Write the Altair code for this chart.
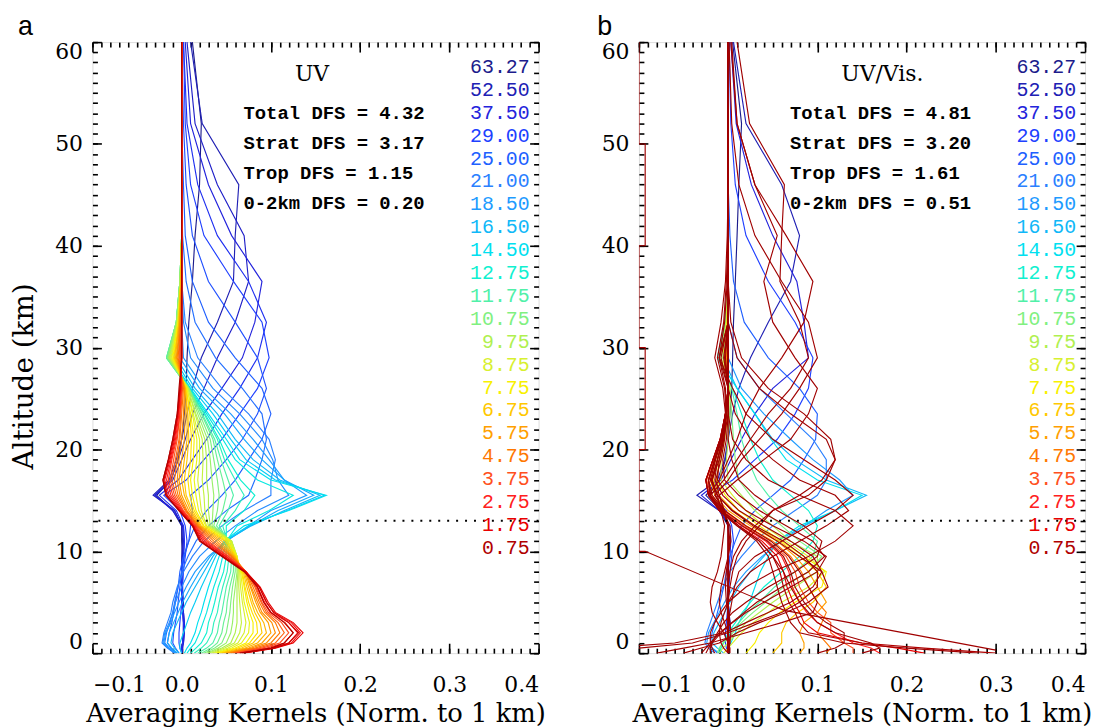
import altair as alt
import pandas as pd

# ---------------- data ----------------
ALT_KM = [0, 0.5, 1, 2, 3, 4, 5, 6.5, 8, 9.5, 11, 12.5, 14, 15.5, 17, 19, 21,
          23.5, 26, 29, 32.5, 36.5, 41, 46, 52, 60]

LAYER_LABELS = ["63.27", "52.50", "37.50", "29.00", "25.00", "21.00", "18.50",
                "16.50", "14.50", "12.75", "11.75", "10.75", "9.75", "8.75",
                "7.75", "6.75", "5.75", "4.75", "3.75", "2.75", "1.75", "0.75"]

LAYER_COLORS = ["#1c1c8c", "#2020b4", "#2424dc", "#2040ff", "#2060ff", "#2a80ff",
                "#1e9bff", "#10b8f8", "#00e0f0", "#10f0d0", "#50f0a8", "#80f080",
                "#b0f050", "#d8f030", "#f8f000", "#ffc800", "#ffa000", "#ff7800",
                "#ff5020", "#ff2020", "#e80000", "#b00000"]

UV_AK = [
    [0.0, 0.0, 0.001, 0.002, 0.002, 0.002, 0.001, 0.0, 0.0, 0.001, 0.0, 0.0, -0.01, -0.028, -0.012, -0.004, 0.0, 0.003, 0.005, 0.006, 0.008, 0.012, 0.015, 0.02, 0.022, 0.012],
    [0.0, 0.0, 0.002, 0.003, 0.003, 0.002, 0.002, 0.001, 0.0, 0.0, 0.001, 0.0, -0.008, -0.032, -0.014, -0.006, 0.0, 0.006, 0.012, 0.022, 0.04, 0.058, 0.06, 0.064, 0.023, 0.01],
    [0.0, 0.001, 0.002, 0.003, 0.003, 0.002, 0.001, 0.0, 0.0, 0.002, 0.003, 0.002, -0.01, -0.03, -0.01, 0.0, 0.01, 0.025, 0.045, 0.068, 0.082, 0.09, 0.056, 0.03, 0.01, 0.004],
    [0.0, -0.002, -0.003, -0.003, -0.002, -0.001, 0.0, 0.001, 0.002, 0.004, 0.006, 0.004, -0.002, -0.02, 0.005, 0.025, 0.045, 0.065, 0.085, 0.098, 0.09, 0.058, 0.025, 0.01, 0.004, 0.002],
    [-0.005, -0.012, -0.016, -0.014, -0.011, -0.009, -0.007, -0.004, -0.002, 0.002, 0.008, 0.015, 0.028, 0.045, 0.06, 0.075, 0.09, 0.1, 0.09, 0.06, 0.03, 0.012, 0.004, 0.002, 0.0, 0.0],
    [-0.008, -0.016, -0.022, -0.02, -0.016, -0.012, -0.01, -0.005, 0.002, 0.012, 0.025, 0.045, 0.07, 0.1, 0.1, 0.105, 0.098, 0.075, 0.045, 0.018, 0.004, 0.0, 0.0, 0.0, 0.0, 0.0],
    [-0.006, -0.014, -0.02, -0.018, -0.012, -0.008, -0.003, 0.005, 0.015, 0.03, 0.05, 0.075, 0.1, 0.14, 0.115, 0.098, 0.08, 0.055, 0.025, 0.002, 0.0, 0.0, 0.0, 0.0, 0.0, 0.0],
    [-0.003, -0.008, -0.012, -0.01, -0.005, 0.0, 0.005, 0.015, 0.025, 0.035, 0.048, 0.078, 0.115, 0.155, 0.11, 0.08, 0.06, 0.04, 0.015, -0.006, 0.0, 0.0, 0.0, 0.0, 0.0, 0.0],
    [0.003, 0.006, 0.01, 0.015, 0.018, 0.022, 0.025, 0.03, 0.036, 0.042, 0.048, 0.07, 0.12, 0.162, 0.1, 0.065, 0.05, 0.03, 0.01, -0.012, -0.004, 0.0, 0.0, 0.0, 0.0, 0.0],
    [0.01, 0.016, 0.022, 0.028, 0.03, 0.034, 0.037, 0.041, 0.047, 0.05, 0.05, 0.05, 0.07, 0.082, 0.066, 0.052, 0.042, 0.026, 0.008, -0.016, -0.006, -0.002, 0.0, 0.0, 0.0, 0.0],
    [0.018, 0.028, 0.035, 0.04, 0.042, 0.045, 0.047, 0.05, 0.055, 0.056, 0.052, 0.042, 0.052, 0.058, 0.052, 0.044, 0.037, 0.023, 0.008, -0.017, -0.006, -0.002, 0.0, 0.0, 0.0, 0.0],
    [0.025, 0.037, 0.045, 0.05, 0.052, 0.054, 0.055, 0.057, 0.06, 0.06, 0.055, 0.036, 0.04, 0.042, 0.04, 0.036, 0.032, 0.02, 0.008, -0.016, -0.006, -0.002, 0.0, 0.0, 0.0, 0.0],
    [0.03, 0.045, 0.055, 0.06, 0.062, 0.062, 0.062, 0.062, 0.063, 0.062, 0.056, 0.032, 0.03, 0.03, 0.028, 0.028, 0.026, 0.016, 0.007, -0.014, -0.005, -0.002, 0.0, 0.0, 0.0, 0.0],
    [0.035, 0.052, 0.063, 0.07, 0.072, 0.07, 0.068, 0.066, 0.065, 0.062, 0.055, 0.028, 0.022, 0.02, 0.018, 0.02, 0.02, 0.013, 0.006, -0.012, -0.004, -0.001, 0.0, 0.0, 0.0, 0.0],
    [0.04, 0.06, 0.072, 0.08, 0.08, 0.076, 0.073, 0.07, 0.067, 0.061, 0.052, 0.025, 0.016, 0.012, 0.01, 0.013, 0.014, 0.01, 0.005, -0.01, -0.004, -0.001, 0.0, 0.0, 0.0, 0.0],
    [0.045, 0.067, 0.08, 0.09, 0.088, 0.082, 0.078, 0.073, 0.069, 0.06, 0.048, 0.022, 0.012, 0.005, 0.003, 0.006, 0.008, 0.007, 0.004, -0.008, -0.003, -0.001, 0.0, 0.0, 0.0, 0.0],
    [0.05, 0.075, 0.09, 0.1, 0.097, 0.088, 0.083, 0.077, 0.071, 0.058, 0.042, 0.02, 0.008, 0.0, -0.003, 0.0, 0.003, 0.004, 0.003, -0.006, -0.002, 0.0, 0.0, 0.0, 0.0, 0.0],
    [0.055, 0.082, 0.1, 0.11, 0.105, 0.093, 0.087, 0.08, 0.072, 0.056, 0.036, 0.018, 0.005, -0.004, -0.008, -0.005, -0.002, 0.0, 0.002, -0.004, -0.001, 0.0, 0.0, 0.0, 0.0, 0.0],
    [0.06, 0.09, 0.11, 0.12, 0.112, 0.097, 0.09, 0.083, 0.072, 0.053, 0.03, 0.016, 0.002, -0.008, -0.013, -0.009, -0.005, -0.002, 0.0, -0.002, 0.0, 0.0, 0.0, 0.0, 0.0, 0.0],
    [0.065, 0.1, 0.12, 0.13, 0.12, 0.1, 0.093, 0.085, 0.072, 0.05, 0.026, 0.014, 0.0, -0.012, -0.017, -0.012, -0.007, -0.003, -0.001, 0.0, 0.0, 0.0, 0.0, 0.0, 0.0, 0.0],
    [0.07, 0.105, 0.125, 0.136, 0.125, 0.105, 0.097, 0.088, 0.072, 0.047, 0.022, 0.013, -0.002, -0.016, -0.02, -0.014, -0.009, -0.004, -0.002, 0.0, 0.0, 0.0, 0.0, 0.0, 0.0, 0.0],
    [0.065, 0.1, 0.115, 0.125, 0.115, 0.1, 0.092, 0.085, 0.07, 0.045, 0.02, 0.012, -0.003, -0.018, -0.021, -0.015, -0.01, -0.005, -0.003, 0.0, 0.0, 0.0, 0.0, 0.0, 0.0, 0.0],
]

# unlabelled in-between layers of panel a
UV_MID_KM = [45, 33, 27, 23, 19.75, 17.5, 15.5, 13.5, 12.25, 11.25, 10.25, 9.25,
             8.25, 7.25, 6.25, 5.25, 4.25, 3.25, 2.25, 1.25]
UV_MID_COLORS = ["#2020c8", "#2030f0", "#2050ff", "#2470ff", "#248cff", "#18a8fc",
                 "#08ccf4", "#08e8e0", "#30f0bc", "#68f094", "#98f068", "#c4f240",
                 "#e8f418", "#ffe000", "#ffb400", "#ff8c00", "#ff6410", "#ff3818",
                 "#f41010", "#cc0000"]
UV_MID_AK = [
    [0.0, 0.0, 0.001, 0.002, 0.002, 0.001, 0.0, 0.0, 0.0, 0.001, 0.002, 0.001, -0.008, -0.03, -0.012, -0.004, 0.004, 0.012, 0.025, 0.04, 0.06, 0.075, 0.07, 0.04, 0.015, 0.006],
    [0.0, 0.0, 0.001, 0.002, 0.002, 0.001, 0.0, 0.0, 0.0, 0.002, 0.003, 0.002, -0.006, -0.025, -0.004, 0.012, 0.028, 0.045, 0.065, 0.085, 0.095, 0.075, 0.04, 0.018, 0.006, 0.002],
    [-0.003, -0.007, -0.01, -0.009, -0.007, -0.005, -0.004, -0.002, 0.0, 0.003, 0.008, 0.01, 0.012, 0.01, 0.03, 0.05, 0.068, 0.085, 0.095, 0.085, 0.06, 0.03, 0.012, 0.005, 0.002, 0.0],
    [-0.007, -0.014, -0.019, -0.017, -0.013, -0.01, -0.008, -0.004, 0.0, 0.007, 0.016, 0.03, 0.05, 0.075, 0.082, 0.09, 0.095, 0.09, 0.068, 0.038, 0.015, 0.005, 0.001, 0.0, 0.0, 0.0],
    [-0.007, -0.015, -0.021, -0.019, -0.014, -0.01, -0.007, 0.0, 0.008, 0.02, 0.038, 0.06, 0.085, 0.12, 0.108, 0.102, 0.09, 0.065, 0.035, 0.01, 0.002, 0.0, 0.0, 0.0, 0.0, 0.0],
    [-0.005, -0.011, -0.016, -0.014, -0.009, -0.004, 0.001, 0.01, 0.02, 0.032, 0.05, 0.077, 0.108, 0.148, 0.115, 0.09, 0.07, 0.048, 0.02, -0.002, 0.0, 0.0, 0.0, 0.0, 0.0, 0.0],
    [0.0, -0.002, -0.002, 0.002, 0.006, 0.01, 0.015, 0.022, 0.03, 0.038, 0.048, 0.075, 0.118, 0.16, 0.105, 0.072, 0.055, 0.035, 0.012, -0.009, -0.002, 0.0, 0.0, 0.0, 0.0, 0.0],
    [0.006, 0.01, 0.015, 0.02, 0.024, 0.028, 0.031, 0.036, 0.042, 0.046, 0.05, 0.062, 0.098, 0.125, 0.085, 0.06, 0.046, 0.028, 0.009, -0.014, -0.005, -0.001, 0.0, 0.0, 0.0, 0.0],
    [0.014, 0.022, 0.028, 0.034, 0.036, 0.04, 0.042, 0.046, 0.051, 0.053, 0.051, 0.046, 0.06, 0.07, 0.06, 0.048, 0.04, 0.025, 0.008, -0.017, -0.006, -0.002, 0.0, 0.0, 0.0, 0.0],
    [0.022, 0.033, 0.04, 0.045, 0.047, 0.05, 0.051, 0.054, 0.058, 0.058, 0.054, 0.039, 0.046, 0.05, 0.046, 0.04, 0.035, 0.022, 0.008, -0.017, -0.006, -0.002, 0.0, 0.0, 0.0, 0.0],
    [0.028, 0.041, 0.05, 0.055, 0.057, 0.058, 0.058, 0.06, 0.062, 0.061, 0.056, 0.034, 0.035, 0.036, 0.034, 0.032, 0.029, 0.018, 0.008, -0.015, -0.006, -0.002, 0.0, 0.0, 0.0, 0.0],
    [0.033, 0.048, 0.059, 0.065, 0.067, 0.066, 0.065, 0.064, 0.064, 0.062, 0.056, 0.03, 0.026, 0.025, 0.023, 0.024, 0.023, 0.015, 0.007, -0.013, -0.005, -0.001, 0.0, 0.0, 0.0, 0.0],
    [0.038, 0.056, 0.067, 0.075, 0.076, 0.073, 0.07, 0.068, 0.066, 0.062, 0.054, 0.027, 0.019, 0.016, 0.014, 0.017, 0.017, 0.012, 0.006, -0.011, -0.004, -0.001, 0.0, 0.0, 0.0, 0.0],
    [0.043, 0.063, 0.076, 0.085, 0.084, 0.079, 0.075, 0.071, 0.068, 0.061, 0.05, 0.024, 0.014, 0.009, 0.007, 0.01, 0.011, 0.009, 0.005, -0.009, -0.003, -0.001, 0.0, 0.0, 0.0, 0.0],
    [0.048, 0.071, 0.085, 0.095, 0.092, 0.085, 0.08, 0.075, 0.07, 0.059, 0.045, 0.021, 0.01, 0.003, 0.0, 0.003, 0.006, 0.006, 0.004, -0.007, -0.003, -0.001, 0.0, 0.0, 0.0, 0.0],
    [0.052, 0.078, 0.095, 0.105, 0.101, 0.09, 0.085, 0.078, 0.072, 0.057, 0.039, 0.019, 0.006, -0.002, -0.005, -0.003, 0.0, 0.002, 0.003, -0.005, -0.002, 0.0, 0.0, 0.0, 0.0, 0.0],
    [0.058, 0.086, 0.105, 0.115, 0.108, 0.095, 0.089, 0.082, 0.072, 0.055, 0.033, 0.017, 0.004, -0.006, -0.011, -0.007, -0.003, -0.001, 0.001, -0.003, -0.001, 0.0, 0.0, 0.0, 0.0, 0.0],
    [0.062, 0.095, 0.115, 0.125, 0.116, 0.099, 0.092, 0.084, 0.072, 0.052, 0.028, 0.015, 0.001, -0.01, -0.015, -0.011, -0.006, -0.002, 0.0, -0.001, 0.0, 0.0, 0.0, 0.0, 0.0, 0.0],
    [0.068, 0.103, 0.123, 0.133, 0.123, 0.103, 0.095, 0.087, 0.072, 0.049, 0.024, 0.013, -0.001, -0.014, -0.019, -0.013, -0.008, -0.004, -0.001, 0.0, 0.0, 0.0, 0.0, 0.0, 0.0, 0.0],
    [0.068, 0.103, 0.12, 0.131, 0.12, 0.103, 0.095, 0.087, 0.071, 0.046, 0.021, 0.012, -0.003, -0.017, -0.021, -0.015, -0.01, -0.005, -0.002, 0.0, 0.0, 0.0, 0.0, 0.0, 0.0, 0.0],
]

UVVIS_AK = [
    [0.0, 0.0, 0.0, 0.001, 0.001, 0.001, 0.0, 0.0, 0.0, 0.0, 0.0, 0.0, -0.008, -0.025, -0.01, -0.003, 0.0, 0.002, 0.004, 0.005, 0.006, 0.008, 0.01, 0.012, 0.015, 0.005],
    [0.0, 0.0, 0.001, 0.002, 0.002, 0.001, 0.0, 0.0, 0.0, 0.0, 0.001, 0.0, -0.01, -0.035, -0.012, -0.004, 0.0, 0.005, 0.012, 0.025, 0.045, 0.07, 0.08, 0.06, 0.02, 0.006],
    [0.0, 0.0, 0.001, 0.002, 0.002, 0.001, 0.0, 0.0, 0.0, 0.002, 0.003, 0.002, -0.01, -0.03, -0.008, 0.003, 0.015, 0.03, 0.05, 0.09, 0.085, 0.077, 0.05, 0.026, 0.009, 0.003],
    [0.0, -0.002, -0.003, -0.003, -0.002, -0.001, 0.0, 0.001, 0.002, 0.004, 0.006, 0.004, -0.002, -0.022, 0.005, 0.03, 0.055, 0.075, 0.09, 0.095, 0.075, 0.045, 0.02, 0.008, 0.003, 0.001],
    [-0.012, -0.018, -0.02, -0.018, -0.015, -0.012, -0.009, -0.005, -0.002, 0.002, 0.008, 0.015, 0.03, 0.05, 0.07, 0.085, 0.098, 0.1, 0.08, 0.045, 0.018, 0.006, 0.002, 0.0, 0.0, 0.0],
    [-0.015, -0.022, -0.026, -0.024, -0.02, -0.016, -0.012, -0.006, 0.002, 0.015, 0.03, 0.05, 0.075, 0.1, 0.11, 0.11, 0.095, 0.065, 0.035, 0.01, 0.0, 0.0, 0.0, 0.0, 0.0, 0.0],
    [-0.01, -0.018, -0.024, -0.022, -0.016, -0.01, -0.004, 0.006, 0.02, 0.038, 0.06, 0.085, 0.11, 0.14, 0.125, 0.095, 0.07, 0.04, 0.015, 0.0, 0.0, 0.0, 0.0, 0.0, 0.0, 0.0],
    [-0.005, -0.012, -0.018, -0.016, -0.01, -0.004, 0.002, 0.012, 0.025, 0.04, 0.055, 0.085, 0.12, 0.155, 0.11, 0.075, 0.05, 0.03, 0.01, -0.006, 0.0, 0.0, 0.0, 0.0, 0.0, 0.0],
    [0.0, 0.0, 0.003, 0.008, 0.012, 0.018, 0.024, 0.03, 0.036, 0.045, 0.055, 0.08, 0.12, 0.15, 0.1, 0.065, 0.048, 0.03, 0.01, -0.012, -0.004, 0.0, 0.0, 0.0, 0.0, 0.0],
    [-0.01, -0.008, -0.005, 0.0, 0.008, 0.016, 0.025, 0.04, 0.06, 0.08, 0.095, 0.1, 0.09, 0.07, 0.05, 0.035, 0.025, 0.015, 0.005, -0.012, -0.004, 0.0, 0.0, 0.0, 0.0, 0.0],
    [-0.012, -0.01, -0.006, 0.002, 0.012, 0.022, 0.035, 0.052, 0.075, 0.095, 0.1, 0.08, 0.06, 0.045, 0.032, 0.022, 0.015, 0.01, 0.004, -0.01, -0.003, 0.0, 0.0, 0.0, 0.0, 0.0],
    [-0.012, -0.01, -0.005, 0.005, 0.015, 0.028, 0.042, 0.062, 0.09, 0.105, 0.08, 0.06, 0.04, 0.025, 0.012, 0.008, 0.006, 0.004, 0.002, -0.01, -0.003, 0.0, 0.0, 0.0, 0.0, 0.0],
    [-0.01, -0.006, 0.0, 0.01, 0.02, 0.035, 0.05, 0.075, 0.1, 0.1, 0.07, 0.05, 0.03, 0.015, 0.0, -0.002, 0.0, 0.002, 0.002, -0.008, -0.002, 0.0, 0.0, 0.0, 0.0, 0.0],
    [-0.005, 0.0, 0.005, 0.015, 0.028, 0.045, 0.06, 0.09, 0.108, 0.09, 0.065, 0.04, 0.02, 0.005, -0.008, -0.008, -0.004, 0.0, 0.001, -0.006, -0.002, 0.0, 0.0, 0.0, 0.0, 0.0],
    [0.02, 0.025, 0.03, 0.035, 0.045, 0.058, 0.075, 0.105, 0.11, 0.085, 0.06, 0.035, 0.012, -0.003, -0.013, -0.01, -0.005, 0.0, 0.0, -0.004, -0.001, 0.0, 0.0, 0.0, 0.0, 0.0],
    [0.05, 0.055, 0.06, 0.06, 0.065, 0.078, 0.095, 0.11, 0.1, 0.08, 0.058, 0.03, 0.006, -0.01, -0.017, -0.012, -0.006, -0.002, 0.0, -0.003, -0.001, 0.0, 0.0, 0.0, 0.0, 0.0],
    [0.08, 0.085, 0.085, 0.08, 0.085, 0.1, 0.11, 0.1, 0.09, 0.075, 0.055, 0.025, 0.0, -0.015, -0.02, -0.014, -0.007, -0.002, 0.0, -0.002, 0.0, 0.0, 0.0, 0.0, 0.0, 0.0],
    [0.11, 0.115, 0.11, 0.1, 0.105, 0.11, 0.1, 0.09, 0.082, 0.07, 0.05, 0.02, -0.004, -0.018, -0.022, -0.015, -0.008, -0.003, 0.0, -0.001, 0.0, 0.0, 0.0, 0.0, 0.0, 0.0],
    [0.14, 0.14, 0.13, 0.115, 0.115, 0.1, 0.09, 0.08, 0.075, 0.065, 0.045, 0.018, -0.006, -0.02, -0.024, -0.016, -0.008, -0.003, 0.0, 0.0, 0.0, 0.0, 0.0, 0.0, 0.0, 0.0],
    [0.17, 0.16, 0.14, 0.12, 0.1, 0.088, 0.08, 0.072, 0.068, 0.06, 0.042, 0.015, -0.008, -0.022, -0.025, -0.017, -0.009, -0.003, 0.0, 0.0, 0.0, 0.0, 0.0, 0.0, 0.0, 0.0],
    [0.22, 0.19, 0.15, 0.1, 0.085, 0.08, 0.073, 0.066, 0.062, 0.055, 0.038, 0.012, -0.01, -0.022, -0.025, -0.017, -0.009, -0.003, 0.0, 0.0, 0.0, 0.0, 0.0, 0.0, 0.0, 0.0],
    [0.3, 0.22, 0.15, 0.09, 0.08, 0.075, 0.068, 0.062, 0.058, 0.05, 0.035, 0.01, -0.01, -0.022, -0.025, -0.017, -0.009, -0.003, 0.0, 0.0, 0.0, 0.0, 0.0, 0.0, 0.0, 0.0],
]

# the many further layers of panel b, all drawn in the last (dark red) colour
UVVIS_EXTRA = [
    [-0.2, -0.1, -0.04, 0.0, 0.03, 0.06, 0.08, 0.1, 0.1, 0.085, 0.062, 0.03, 0.005, -0.012, -0.018, -0.012, -0.006, -0.002, 0.0, 0.0, 0.0, 0.0, 0.0, 0.0, 0.0, 0.0],
    [-0.3, -0.14, -0.06, -0.004, 0.02, 0.045, 0.07, 0.095, 0.105, 0.095, 0.07, 0.04, 0.012, -0.006, -0.015, -0.012, -0.006, -0.002, 0.0, 0.0, 0.0, 0.0, 0.0, 0.0, 0.0, 0.0],
    [0.28, 0.2, 0.13, 0.08, 0.07, 0.065, 0.06, 0.055, 0.05, 0.045, 0.032, 0.01, -0.01, -0.02, -0.022, -0.015, -0.008, -0.003, 0.0, 0.0, 0.0, 0.0, 0.0, 0.0, 0.0, 0.0],
    [-0.05, -0.03, -0.01, 0.01, 0.035, 0.065, 0.09, 0.112, 0.105, 0.08, 0.055, 0.028, 0.004, -0.012, -0.02, -0.014, -0.007, -0.002, 0.0, 0.0, 0.0, 0.0, 0.0, 0.0, 0.0, 0.0],
    [-0.02, -0.02, -0.018, -0.012, -0.005, 0.005, 0.02, 0.045, 0.075, 0.1, 0.105, 0.085, 0.055, 0.03, 0.012, 0.004, 0.0, 0.0, 0.0, -0.005, 0.0, 0.0, 0.0, 0.0, 0.0, 0.0],
    [-0.015, -0.018, -0.02, -0.02, -0.015, -0.008, 0.0, 0.02, 0.05, 0.09, 0.12, 0.14, 0.12, 0.08, 0.045, 0.02, 0.005, 0.0, 0.0, -0.008, 0.0, 0.0, 0.0, 0.0, 0.0, 0.0],
    [0.0, 0.0, 0.0, 0.0, 0.0, 0.002, 0.004, 0.007, 0.012, 0.03, 0.06, 0.09, 0.12, 0.14, 0.12, 0.085, 0.05, 0.02, 0.005, -0.01, 0.0, 0.0, 0.0, 0.0, 0.0, 0.0],
    [0.0, 0.0, 0.0, 0.0, 0.0, 0.0, 0.0, 0.002, 0.005, 0.01, 0.02, 0.035, 0.05, 0.09, 0.11, 0.12, 0.11, 0.07, 0.035, 0.01, 0.0, 0.0, 0.0, 0.0, 0.0, 0.0],
    [0.0, 0.0, 0.0, 0.0, 0.0, 0.0, 0.0, 0.0, 0.0, 0.0, 0.0, 0.0, -0.005, -0.01, 0.01, 0.04, 0.07, 0.09, 0.1, 0.075, 0.05, 0.04, 0.055, 0.03, 0.01, 0.003],
    [0.0, 0.0, 0.0, 0.0, 0.0, 0.0, 0.0, 0.0, 0.0, 0.0, 0.001, 0.0, -0.005, -0.02, -0.005, 0.01, 0.025, 0.045, 0.07, 0.09, 0.08, 0.058, 0.06, 0.063, 0.024, 0.01],
    [0.0, 0.0, 0.0, 0.0, 0.0, 0.0, 0.0, 0.0, 0.0, 0.0, 0.0, 0.0, -0.006, -0.022, -0.01, 0.0, 0.01, 0.02, 0.035, 0.06, 0.085, 0.095, 0.065, 0.03, 0.01, 0.004],
    [0.002, 0.002, 0.0, -0.005, -0.012, -0.018, -0.02, -0.018, -0.012, -0.008, -0.006, -0.004, -0.008, -0.012, -0.019, -0.012, -0.006, -0.003, -0.006, -0.015, -0.008, -0.003, -0.001, 0.0, 0.0, 0.0],
    [0.0, 0.0, 0.002, 0.003, 0.002, 0.0, -0.002, -0.003, -0.002, 0.0, 0.002, 0.0, -0.004, -0.01, -0.014, -0.008, -0.004, -0.002, -0.003, -0.01, -0.004, -0.001, 0.0, 0.0, 0.0, 0.0],
    [0.15, 0.17, 0.16, 0.12, 0.1, 0.09, 0.08, 0.07, 0.062, 0.05, 0.035, 0.012, -0.008, -0.02, -0.022, -0.015, -0.008, -0.003, 0.0, 0.0, 0.0, 0.0, 0.0, 0.0, 0.0, 0.0],
    [-0.03, -0.025, -0.02, -0.01, 0.005, 0.02, 0.04, 0.07, 0.1, 0.11, 0.085, 0.05, 0.02, 0.0, -0.012, -0.01, -0.005, 0.0, 0.0, -0.003, 0.0, 0.0, 0.0, 0.0, 0.0, 0.0],
    [-0.08, -0.05, -0.02, 0.02, 0.06, 0.095, 0.1, 0.09, 0.08, 0.068, 0.048, 0.02, -0.004, -0.018, -0.022, -0.015, -0.008, -0.003, 0.0, 0.0, 0.0, 0.0, 0.0, 0.0, 0.0, 0.0],
    [0.1, 0.12, 0.13, 0.13, 0.11, 0.095, 0.085, 0.075, 0.07, 0.062, 0.044, 0.016, -0.008, -0.022, -0.025, -0.017, -0.009, -0.003, 0.0, 0.0, 0.0, 0.0, 0.0, 0.0, 0.0, 0.0],
    [-0.025, -0.022, -0.018, -0.008, 0.004, 0.018, 0.032, 0.06, 0.09, 0.108, 0.095, 0.065, 0.035, 0.012, -0.004, -0.006, -0.002, 0.0, 0.0, -0.004, 0.0, 0.0, 0.0, 0.0, 0.0, 0.0],
    [0.0, -0.005, -0.008, -0.01, -0.008, -0.004, 0.0, 0.01, 0.025, 0.05, 0.08, 0.11, 0.135, 0.12, 0.08, 0.05, 0.025, 0.008, 0.0, -0.01, 0.0, 0.0, 0.0, 0.0, 0.0, 0.0],
    [0.0, 0.0, 0.0, 0.0, 0.0, 0.0, 0.0, 0.0, 0.002, 0.006, 0.015, 0.03, 0.05, 0.08, 0.105, 0.12, 0.115, 0.085, 0.045, 0.015, 0.003, 0.0, 0.0, 0.0, 0.0, 0.0],
    [0.0, 0.0, 0.0, 0.0, 0.0, 0.0, 0.0, 0.0, 0.0, 0.0, 0.0, 0.0, -0.004, -0.015, 0.0, 0.015, 0.035, 0.06, 0.08, 0.1, 0.09, 0.06, 0.03, 0.012, 0.004, 0.001],
    [0.0, 0.001, 0.002, 0.0, -0.004, -0.008, -0.01, -0.008, -0.004, 0.0, 0.003, 0.002, -0.006, -0.014, -0.018, -0.01, -0.005, -0.002, -0.004, -0.012, -0.005, -0.002, 0.0, 0.0, 0.0, 0.0],
]
EXTRA_COLOR = "#a00000"

# a coarse kernel that runs along the left edge of panel b
EDGE_ALT = [60, 50, 50, 40, 40, 30, 30, 20, 20, 10, 10, 4.2, 0.3]
EDGE_X = [-0.1, -0.1, -0.093, -0.093, -0.1, -0.1, -0.093, -0.093, -0.1, -0.1, -0.093, 0.063, 0.3]

TROPOPAUSE_KM = [13]
UV_DFS = ["Total DFS = 4.32", "Strat DFS = 3.17", "Trop DFS = 1.15", "0-2km DFS = 0.20"]
UVVIS_DFS = ["Total DFS = 4.81", "Strat DFS = 3.20", "Trop DFS = 1.61", "0-2km DFS = 0.51"]

# ---------------- chart ----------------
W, H = 449, 615
SERIF = "DejaVu Serif"
MONO = "Liberation Mono"


def curve_table(kernel_sets, extras=(), edge=None):
    """kernel_sets: list of (layer_km, colour, kernel); drawn from high layer to low."""
    items = []
    for kms, cols, aks in kernel_sets:
        for km, col, ak in zip(kms, cols, aks):
            items.append((km, col, ak))
    items.sort(key=lambda t: -t[0])
    rows = []
    k = 0
    for km, col, ak in items:
        for i, (a, v) in enumerate(zip(ALT_KM, ak)):
            rows.append({"cid": f"c{k:03d}", "col": col, "alt": a, "x": v, "seq": i})
        k += 1
    for ak in extras:
        for i, (a, v) in enumerate(zip(ALT_KM, ak)):
            rows.append({"cid": f"c{k:03d}", "col": EXTRA_COLOR, "alt": a, "x": v, "seq": i})
        k += 1
    if edge is not None:
        for i, (a, v) in enumerate(zip(*edge)):
            rows.append({"cid": f"c{k:03d}", "col": EXTRA_COLOR, "alt": a, "x": v, "seq": i})
    return pd.DataFrame(rows)


def xscale():
    return alt.Scale(domain=[-0.1, 0.4], nice=False, zero=False)


def yscale():
    return alt.Scale(domain=[0, 60], nice=False, zero=False)


DUMMY = pd.DataFrame({"x": [0.0], "alt": [0.0]})
XMAJ = [-0.1, 0.0, 0.1, 0.2, 0.3, 0.4]
XMIN = [round(-0.1 + 0.01 * i, 2) for i in range(51)]
YMAJ = [0, 10, 20, 30, 40, 50, 60]
YMIN = list(range(0, 61))


def tick_layer(channel, orient, offset, values, size):
    ax = alt.Axis(orient=orient, offset=offset, values=values, labels=False,
                  domain=False, ticks=True, tickSize=size, tickWidth=1.6,
                  tickColor="black", grid=False, title=None)
    if channel == "x":
        enc = dict(x=alt.X("x:Q", scale=xscale(), axis=ax),
                   y=alt.Y("alt:Q", scale=yscale(), axis=None))
    else:
        enc = dict(x=alt.X("x:Q", scale=xscale(), axis=None),
                   y=alt.Y("alt:Q", scale=yscale(), axis=ax))
    return alt.Chart(DUMMY).mark_point(opacity=0).encode(**enc)


def panel(df, heading, heading_x, stats, letter, letter_dx, ytitle):
    yax = dict(values=YMAJ, format="d", labelFlush=True, ticks=False, domain=False,
               labelPadding=10, labelFont=SERIF, labelFontSize=22, grid=False,
               labelColor="black")
    if ytitle:
        yax.update(title=ytitle, titleFont=SERIF, titleFontSize=28,
                   titleFontWeight="normal", titlePadding=16, titleColor="black",
                   titleY=336)
    else:
        yax.update(title=None)
    curves = alt.Chart(df).mark_line(clip=True, strokeWidth=1.15).encode(
        x=alt.X("x:Q", scale=xscale(), axis=alt.Axis(
            values=XMAJ, format=".1f", ticks=False, domain=False, grid=False,
            labelPadding=22, labelFont=SERIF, labelFontSize=22, labelColor="black",
            title="Averaging Kernels (Norm. to 1 km)", titleFont=SERIF,
            titleFontSize=26, titleFontWeight="normal", titlePadding=5,
            titleColor="black")),
        y=alt.Y("alt:Q", scale=yscale(), axis=alt.Axis(**yax)),
        color=alt.Color("col:N", scale=None),
        detail="cid:N",
        order="seq:Q",
    )
    trop = alt.Chart(pd.DataFrame({"alt": TROPOPAUSE_KM})).mark_rule(
        color="black", strokeWidth=2, strokeDash=[2, 7]
    ).encode(y=alt.Y("alt:Q", scale=yscale(), axis=None))

    ticks = [
        tick_layer("x", "top", -H, XMAJ, 10),
        tick_layer("x", "top", -H, XMIN, 5),
        tick_layer("x", "bottom", -H, XMAJ, 10),
        tick_layer("x", "bottom", -H, XMIN, 5),
        tick_layer("y", "right", -W, YMAJ, 9),
        tick_layer("y", "right", -W, YMIN, 5),
        tick_layer("y", "left", -W, YMAJ, 9),
        tick_layer("y", "left", -W, YMIN, 5),
    ]

    lab_df = pd.DataFrame({"label": LAYER_LABELS, "col": LAYER_COLORS})
    labels = alt.Chart(lab_df).mark_text(align="right", baseline="middle",
                                         font=MONO, fontSize=20).encode(
        x=alt.value(440),
        y=alt.Y("label:N", sort=None, axis=None,
                scale=alt.Scale(type="point", range=[25, 509], padding=0)),
        text="label:N",
        color=alt.Color("col:N", scale=None),
    )
    st_df = pd.DataFrame({"line": stats})
    stat_text = alt.Chart(st_df).mark_text(align="left", baseline="middle", font=MONO,
                                           fontSize=19, fontWeight="bold",
                                           color="black").encode(
        x=alt.value(152),
        y=alt.Y("line:N", sort=None, axis=None,
                scale=alt.Scale(type="point", range=[71, 162], padding=0)),
        text="line:N",
    )
    head = alt.Chart(pd.DataFrame({"t": [heading]})).mark_text(
        align="center", baseline="middle", font=SERIF, fontSize=22, color="black"
    ).encode(x=alt.value(heading_x), y=alt.value(32), text="t:N")

    return alt.layer(curves, trop, *ticks, labels, stat_text, head).resolve_scale(
        x="independent", y="independent"
    ).properties(
        width=W, height=H,
        title=alt.TitleParams(letter, anchor="start", frame="bounds", fontSize=27,
                              font="Liberation Sans", fontWeight="normal",
                              color="black", offset=0, dx=letter_dx),
    )


uv_sets = [
    ([float(s) for s in LAYER_LABELS], LAYER_COLORS, UV_AK),
    (UV_MID_KM, UV_MID_COLORS, UV_MID_AK),
]
vis_sets = [([float(s) for s in LAYER_LABELS], LAYER_COLORS, UVVIS_AK)]

df_uv = curve_table(uv_sets)
df_vis = curve_table(vis_sets, UVVIS_EXTRA, (EDGE_ALT, EDGE_X))

pa = panel(df_uv, "UV", 221, UV_DFS, "a", 7, "Altitude (km)")
pb = panel(df_vis, "UV/Vis.", 245, UVVIS_DFS, "b", -4, None)

chart = alt.hconcat(pa, pb, spacing=50).properties(
    padding={"left": 2, "top": 2, "right": 0, "bottom": 0}
).configure_view(stroke="black", strokeWidth=2).configure(background="white")

chart.save("out.html", embed_options={"renderer": "svg", "actions": False})
